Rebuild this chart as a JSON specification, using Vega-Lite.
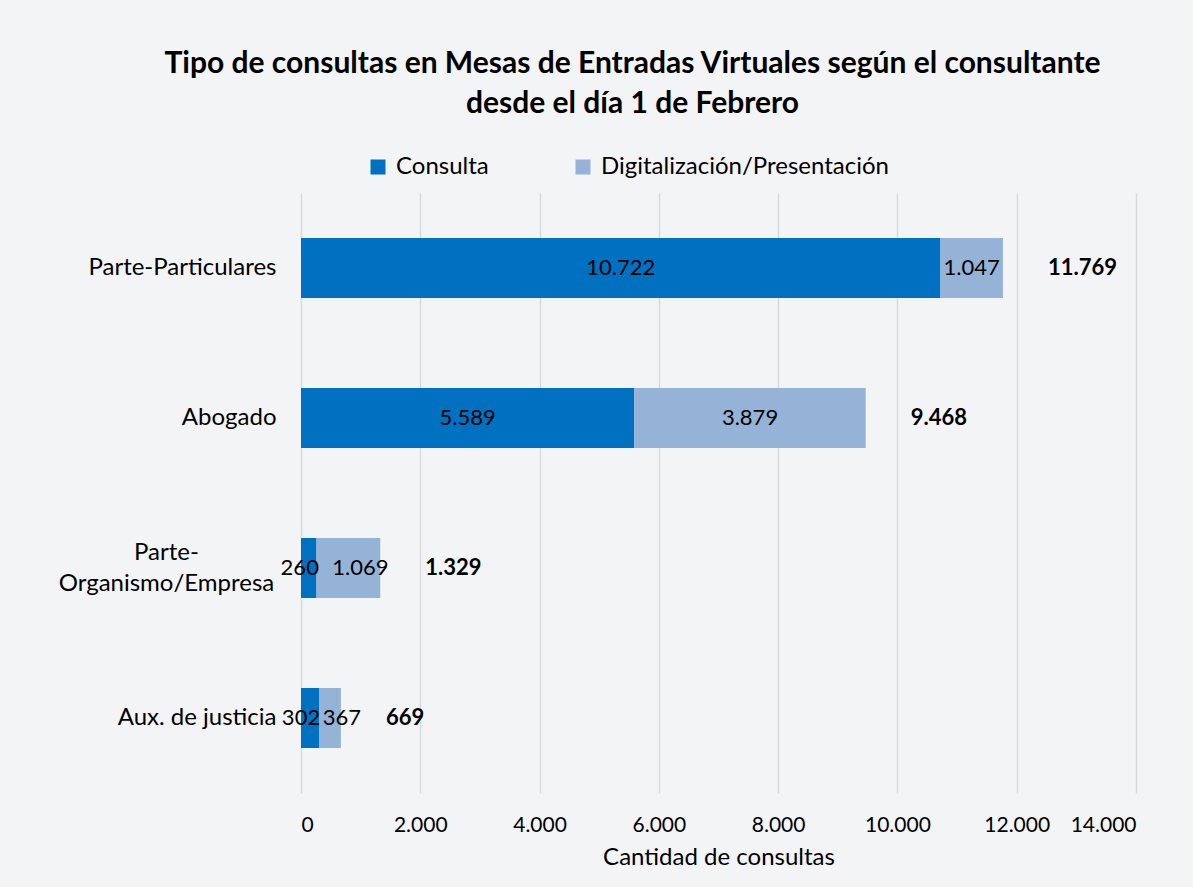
{
  "$schema": "https://vega.github.io/schema/vega-lite/v6.json",
  "width": 835,
  "height": 600,
  "autosize": "none",
  "padding": {"left": 301, "top": 193, "right": 57, "bottom": 94},
  "background": "#f3f4f5",
  "config": {
    "locale": {"number": {"decimal": ",", "thousands": ".", "grouping": [3], "currency": ["$", ""]}},
    "view": {"stroke": null},
    "font": "Lato"
  },
  "title": {
    "text": ["Tipo de consultas en Mesas de Entradas Virtuales según el consultante", "desde el día 1 de Febrero"],
    "fontSize": 30,
    "fontWeight": "bold",
    "font": "Lato",
    "color": "#000000",
    "anchor": "middle",
    "frame": "group",
    "dx": -86,
    "offset": 36,
    "lineHeight": 40
  },
  "data": {
    "values": [
      {"consultante": "Parte-Particulares", "tipo": "Consulta", "valor": 10722},
      {"consultante": "Parte-Particulares", "tipo": "Digitalización/Presentación", "valor": 1047},
      {"consultante": "Abogado", "tipo": "Consulta", "valor": 5589},
      {"consultante": "Abogado", "tipo": "Digitalización/Presentación", "valor": 3879},
      {"consultante": "Parte-Organismo/Empresa", "tipo": "Consulta", "valor": 260},
      {"consultante": "Parte-Organismo/Empresa", "tipo": "Digitalización/Presentación", "valor": 1069},
      {"consultante": "Aux. de justicia", "tipo": "Consulta", "valor": 302},
      {"consultante": "Aux. de justicia", "tipo": "Digitalización/Presentación", "valor": 367}
    ]
  },
  "encoding": {
    "y": {
      "field": "consultante",
      "type": "nominal",
      "sort": ["Parte-Particulares", "Abogado", "Parte-Organismo/Empresa", "Aux. de justicia"],
      "scale": {"paddingInner": 0.6, "paddingOuter": 0.3},
      "axis": {
        "title": null,
        "domain": false,
        "ticks": false,
        "labelFontSize": 24,
        "labelColor": "#000000",
        "labelFont": "Lato",
        "labelLineHeight": 31,
        "labelLimit": 0,
        "labelExpr": "datum.value == 'Parte-Organismo/Empresa' ? ['Parte-', 'Organismo/Empresa'] : datum.value",
        "labelAlign": {"condition": {"test": "datum.value == 'Parte-Organismo/Empresa'", "value": "center"}, "value": "right"},
        "labelPadding": {"condition": {"test": "datum.value == 'Parte-Organismo/Empresa'", "value": 135}, "value": 25},
        "labelOffset": {"condition": {"test": "datum.value == 'Parte-Organismo/Empresa'", "value": -15}, "value": 0}
      }
    }
  },
  "layer": [
    {
      "mark": {"type": "bar"},
      "encoding": {
        "x": {
          "field": "valor",
          "type": "quantitative",
          "stack": "zero",
          "scale": {"domain": [0, 14000], "nice": false},
          "axis": {
            "values": [0, 2000, 4000, 6000, 8000, 10000, 12000, 14000],
            "format": ",d",
            "title": "Cantidad de consultas",
            "titleFontSize": 24,
            "titleFontWeight": "normal",
            "titleColor": "#000000",
            "titleFont": "Lato",
            "titlePadding": 10,
            "labelFontSize": 21,
            "labelColor": "#000000",
            "labelFont": "Lato",
            "labelPadding": 21,
            "domain": false,
            "ticks": false,
            "grid": true,
            "gridColor": "#d9d9d9",
            "gridWidth": 1.5
          }
        },
        "color": {
          "field": "tipo",
          "type": "nominal",
          "scale": {"domain": ["Consulta", "Digitalización/Presentación"], "range": ["#0070C0", "#95B3D7"]},
          "legend": {
            "title": null,
            "orient": "none",
            "direction": "horizontal",
            "legendX": 65,
            "legendY": -38,
            "symbolType": "square",
            "symbolSize": 225,
            "symbolOpacity": 1,
            "labelFontSize": 24,
            "labelColor": "#000000",
            "labelFont": "Lato",
            "labelLimit": 0,
            "columnPadding": 82,
            "labelOffset": 6
          }
        },
        "order": {"field": "tipo", "sort": "ascending"}
      }
    },
    {
      "transform": [
        {"stack": "valor", "groupby": ["consultante"], "as": ["v0", "v1"], "sort": [{"field": "tipo", "order": "ascending"}]},
        {"joinaggregate": [{"op": "sum", "field": "valor", "as": "total"}], "groupby": ["consultante"]},
        {"filter": "datum.total >= 2000"},
        {"calculate": "(datum.v0 + datum.v1) / 2", "as": "mid"}
      ],
      "mark": {"type": "text", "fontSize": 22, "color": "#000000", "font": "Lato"},
      "encoding": {
        "x": {"field": "mid", "type": "quantitative"},
        "text": {"field": "valor", "type": "quantitative", "format": ",d"}
      }
    },
    {
      "transform": [
        {"stack": "valor", "groupby": ["consultante"], "as": ["v0", "v1"], "sort": [{"field": "tipo", "order": "ascending"}]},
        {"joinaggregate": [{"op": "sum", "field": "valor", "as": "total"}], "groupby": ["consultante"]},
        {"filter": "datum.total < 2000 && datum.tipo == 'Consulta'"},
        {"calculate": "(datum.v0 + datum.v1) / 2", "as": "mid"}
      ],
      "mark": {"type": "text", "fontSize": 22, "color": "#000000", "font": "Lato", "dx": -9},
      "encoding": {
        "x": {"field": "mid", "type": "quantitative"},
        "text": {"field": "valor", "type": "quantitative", "format": ",d"}
      }
    },
    {
      "transform": [
        {"stack": "valor", "groupby": ["consultante"], "as": ["v0", "v1"], "sort": [{"field": "tipo", "order": "ascending"}]},
        {"joinaggregate": [{"op": "sum", "field": "valor", "as": "total"}], "groupby": ["consultante"]},
        {"filter": "datum.total < 2000 && datum.tipo != 'Consulta'"},
        {"calculate": "(datum.v0 + datum.v1) / 2", "as": "mid"}
      ],
      "mark": {"type": "text", "fontSize": 22, "color": "#000000", "font": "Lato", "dx": 12},
      "encoding": {
        "x": {"field": "mid", "type": "quantitative"},
        "text": {"field": "valor", "type": "quantitative", "format": ",d"}
      }
    },
    {
      "transform": [
        {"aggregate": [{"op": "sum", "field": "valor", "as": "total"}], "groupby": ["consultante"]}
      ],
      "mark": {"type": "text", "fontSize": 22, "fontWeight": "bold", "color": "#000000", "font": "Lato", "align": "left", "dx": 45},
      "encoding": {
        "x": {"field": "total", "type": "quantitative"},
        "text": {"field": "total", "type": "quantitative", "format": ",d"}
      }
    }
  ]
}
